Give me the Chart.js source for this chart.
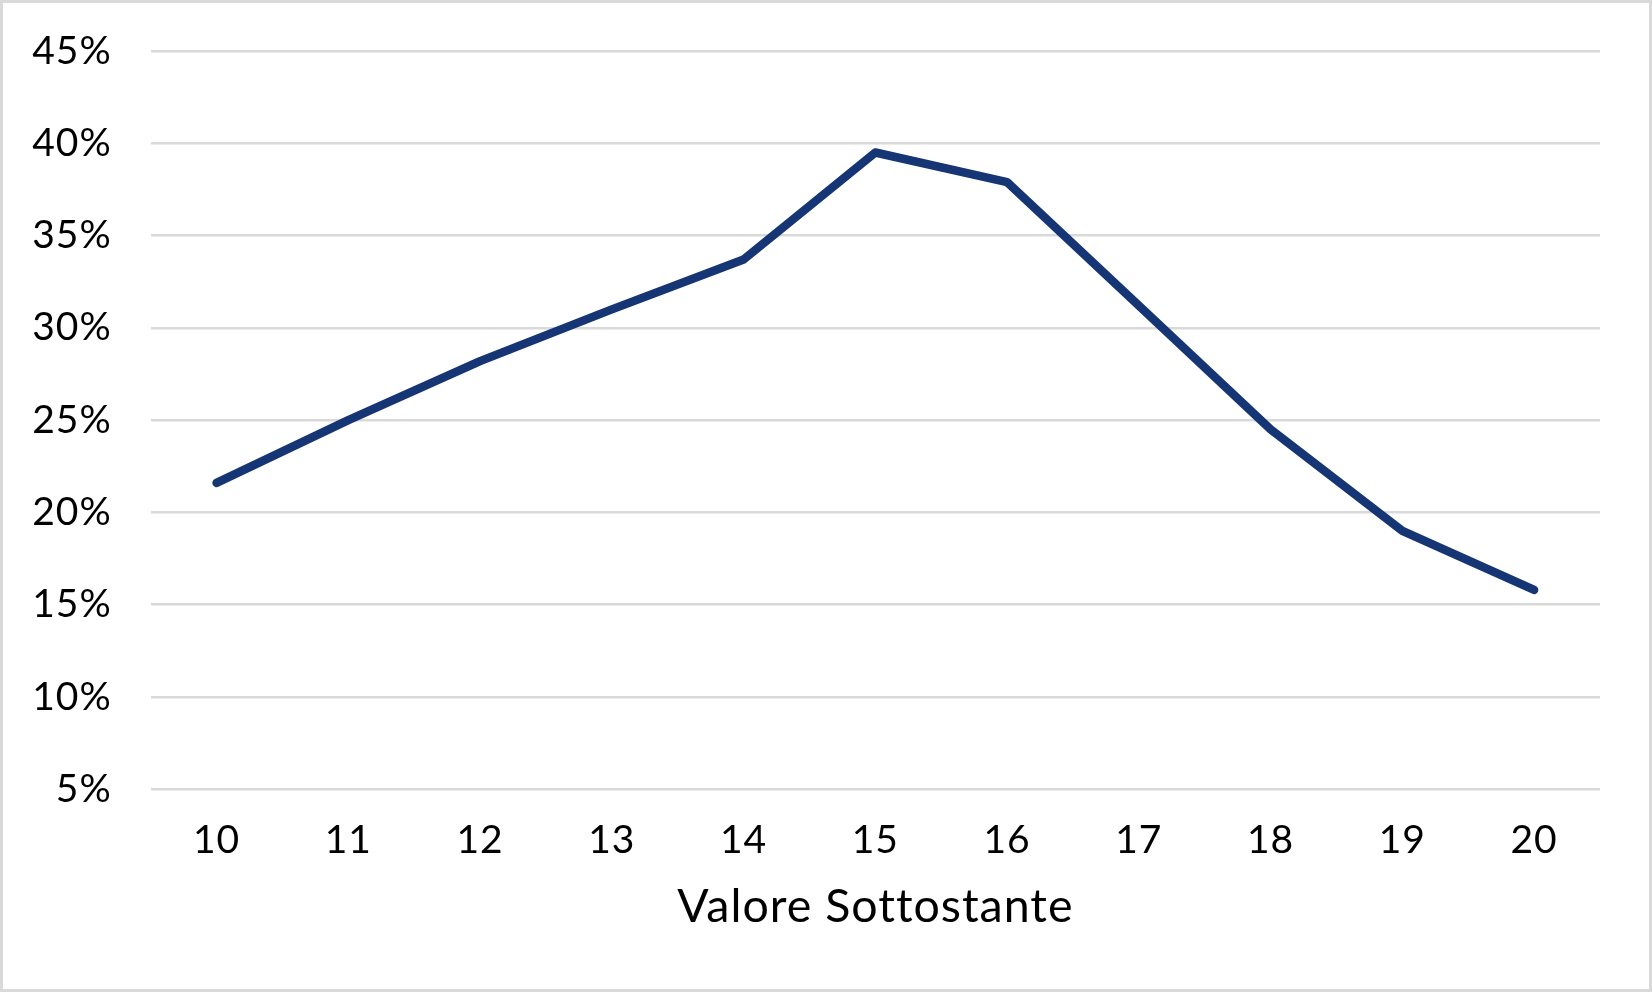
<!DOCTYPE html>
<html>
<head>
<meta charset="utf-8">
<script src="https://cdn.jsdelivr.net/npm/chart.js@4.4.1/dist/chart.umd.min.js"></script>
<style>
  html, body { margin: 0; padding: 0; background: #ffffff; }
  #c { display: block; }
</style>
</head>
<body>
<canvas id="c" width="1652" height="992"></canvas>
<script>
// ---- Data ----
const categories = ['10', '11', '12', '13', '14', '15', '16', '17', '18', '19', '20'];
const values = [21.6, 25.0, 28.2, 31.0, 33.7, 39.5, 37.9, 31.2, 24.5, 19.0, 15.8];
const xAxisTitle = 'Valore Sottostante';
const yMin = 5;
const yMax = 45;
const yStep = 5;

const borderPlugin = {
  id: 'outerBorder',
  beforeDraw(chart) {
    try { chart.ctx.letterSpacing = '1px'; } catch (e) {}
  },
  afterDraw(chart) {
    const ctx = chart.ctx;
    ctx.save();
    ctx.strokeStyle = '#d9d9d9';
    ctx.lineWidth = 3;
    ctx.strokeRect(1.5, 1.5, chart.width - 3, chart.height - 3);
    ctx.restore();
  }
};

new Chart(document.getElementById('c'), {
  type: 'line',
  data: {
    labels: categories,
    datasets: [{
      data: values,
      borderColor: '#163574',
      borderWidth: 8.5,
      borderCapStyle: 'round',
      borderJoinStyle: 'round',
      pointRadius: 0,
      pointHoverRadius: 0,
      tension: 0,
      fill: false
    }]
  },
  options: {
    responsive: false,
    devicePixelRatio: 1,
    animation: false,
    layout: { padding: { left: 10, right: 52, top: 51, bottom: 0 } },
    plugins: {
      legend: { display: false },
      tooltip: { enabled: false }
    },
    scales: {
      x: {
        type: 'category',
        offset: true,
        grid: { display: false, drawTicks: false },
        border: { display: false },
        ticks: {
          color: '#000000',
          font: { family: 'Lato', size: 39 },
          padding: 28,
          maxRotation: 0,
          autoSkip: false
        },
        title: {
          display: true,
          text: xAxisTitle,
          color: '#000000',
          font: { family: 'Lato', size: 46.5 },
          padding: { top: 10, bottom: 57 }
        },
        afterFit(scale) {
          scale.height = 202.7;
          scale.paddingLeft = 0; scale.paddingRight = 0;
        }
      },
      y: {
        min: yMin,
        max: yMax,
        grid: { color: '#d9d9d9', lineWidth: 2.5, drawTicks: false },
        border: { display: false },
        ticks: {
          stepSize: yStep,
          color: '#000000',
          font: { family: 'Lato', size: 39 },
          padding: 39,
          callback: (v) => v + '%'
        },
        afterFit(scale) {
          scale.width = 140.7;
          scale.paddingTop = 0; scale.paddingBottom = 0;
        }
      }
    }
  },
  plugins: [borderPlugin]
});
</script>
</body>
</html>
